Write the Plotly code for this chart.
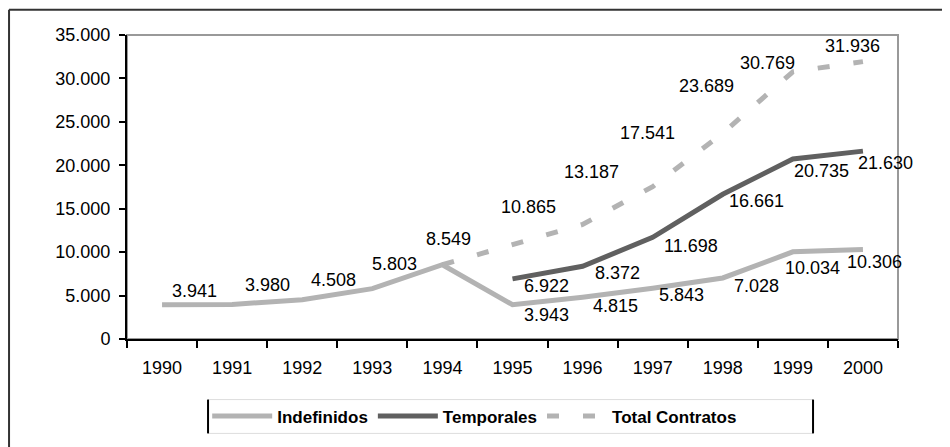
import plotly.graph_objects as go

years = ["1990", "1991", "1992", "1993", "1994", "1995", "1996", "1997", "1998", "1999", "2000"]
indefinidos = [3941, 3980, 4508, 5803, 8549, 3943, 4815, 5843, 7028, 10034, 10306]
temporales = [None, None, None, None, None, 6922, 8372, 11698, 16661, 20735, 21630]
total = [None, None, None, None, 8549, 10865, 13187, 17541, 23689, 30769, 31936]
y_ticks = [0, 5000, 10000, 15000, 20000, 25000, 30000, 35000]

# label offsets in px (style only)
off_ind = [(32, -14), (35, -19), (31, -20), (22, -25), (6, -26), (34, 10), (33, 9), (29, 7), (34, 8), (20, 16), (12, 13)]
off_tem = [None, None, None, None, None, (34, 7), (35, 7), (38, 9), (34, 7), (29, 12), (23, 12)]
off_tot = [None, None, None, None, None, (16, -38), (9, -52), (-5, -54), (-16, -47), (-25, -9), (-10, -16)]

FONT = "Liberation Sans, Arial, Helvetica, sans-serif"
LIGHT = "#b3b3b3"
DARK = "#606060"

def fmt(v):
    return f"{v:,}".replace(",", ".")

fig = go.Figure()
fig.add_trace(go.Scatter(x=years, y=indefinidos, mode="lines", name="Indefinidos",
                         line=dict(color=LIGHT, width=5)))
fig.add_trace(go.Scatter(x=years, y=temporales, mode="lines", name="Temporales",
                         line=dict(color=DARK, width=5)))
fig.add_trace(go.Scatter(x=years, y=total, mode="lines", name="Total Contratos",
                         line=dict(color=LIGHT, width=5, dash="12px,24px")))

annotations = []
for series, offs in ((indefinidos, off_ind), (temporales, off_tem), (total, off_tot)):
    for i, (v, o) in enumerate(zip(series, offs)):
        if v is None or o is None:
            continue
        annotations.append(dict(x=i, y=v, xref="x", yref="y", text=fmt(v), showarrow=False,
                                xshift=o[0], yshift=-o[1],
                                font=dict(family=FONT, size=18, color="black")))

shapes = [
    # plot frame (gray top/right)
    dict(type="rect", xref="paper", yref="paper", x0=0, x1=1, y0=0, y1=1,
         line=dict(color="#999999", width=2), layer="below"),
    # outer chart border (top and left visible)
    dict(type="line", xref="paper", yref="paper", x0=-0.1530, x1=1.2, y0=1.0833, y1=1.0833,
         line=dict(color="#333333", width=2)),
    dict(type="line", xref="paper", yref="paper", x0=-0.1530, x1=-0.1530, y0=1.0833, y1=-0.5,
         line=dict(color="#333333", width=2)),
    # legend box
    dict(type="line", xref="paper", yref="paper", x0=0.1051, x1=0.8898, y0=-0.1993, y1=-0.1993,
         line=dict(color="#dddddd", width=1)),
    dict(type="line", xref="paper", yref="paper", x0=0.1051, x1=0.8898, y0=-0.3105, y1=-0.3105,
         line=dict(color="#dddddd", width=1)),
    dict(type="line", xref="paper", yref="paper", x0=0.1051, x1=0.1051, y0=-0.1993, y1=-0.3105,
         line=dict(color="black", width=2)),
    dict(type="line", xref="paper", yref="paper", x0=0.8898, x1=0.8898, y0=-0.1993, y1=-0.3105,
         line=dict(color="black", width=2)),
]

fig.update_layout(
    width=942, height=439,
    margin=dict(l=119, r=52, t=27, b=106),
    paper_bgcolor="white", plot_bgcolor="white",
    separators=",.",
    font=dict(family=FONT, size=18, color="black"),
    showlegend=True,
    legend=dict(orientation="h", x=0.104, xanchor="left", y=-0.255, yanchor="middle",
                font=dict(family=FONT, size=17, color="black", weight="bold"),
                itemwidth=60, bgcolor="rgba(0,0,0,0)", borderwidth=0,
                tracegroupgap=0),
    annotations=annotations,
    shapes=shapes,
    xaxis=dict(type="category", range=[-0.5, len(years) - 0.5], tickson="boundaries",
               showgrid=False, zeroline=False,
               showline=True, linecolor="black", linewidth=2,
               ticks="outside", ticklen=7, tickwidth=2, tickcolor="black",
               tickangle=0, ticklabelstandoff=11, fixedrange=True),
    yaxis=dict(range=[0, 35000], tickvals=y_ticks, tickformat=",d", showgrid=False, zeroline=False,
               showline=True, linecolor="black", linewidth=2,
               ticks="outside", ticklen=6, tickwidth=2, tickcolor="black",
               ticklabelstandoff=5, fixedrange=True),
)

fig.write_html("out.html")
